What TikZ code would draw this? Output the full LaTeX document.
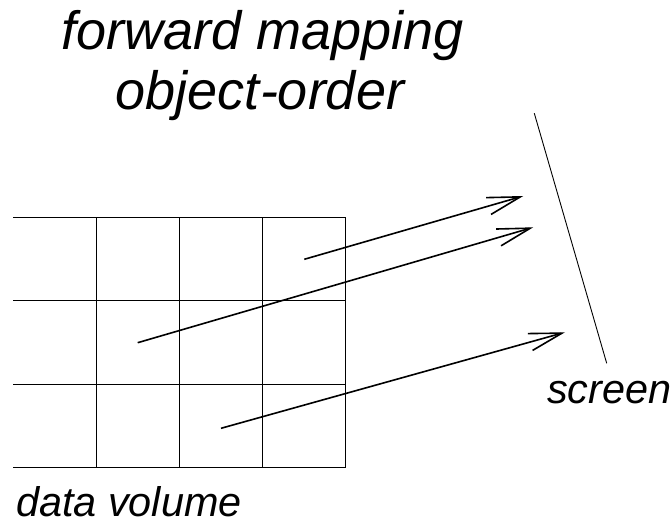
\documentclass[tikz,border=0pt]{standalone}
\usepackage{fontspec}
\setmainfont{Liberation Sans}
\usetikzlibrary{arrows.meta}
\begin{document}
\begin{tikzpicture}[x=1pt,y=-1pt,
  gridline/.style={line width=1pt},
  ray/.style={line width=1.6pt,-{Straight Barb[length=33pt,width=17.5pt,line width=1.6pt]}},
  screenline/.style={line width=0.9pt},
  title/.style={font=\fontsize{54}{64}\selectfont\itshape,anchor=base,inner sep=0pt},
  label/.style={font=\fontsize{41.4}{50}\selectfont\itshape,anchor=base west,inner sep=0pt}]
\useasboundingbox (0,0) rectangle (672,524);
% grid of the data volume (open on the left)
\foreach \y in {217.3,300.7,384,467.3}
  \draw[gridline] (13,\y) -- (345.7,\y);
\foreach \x in {96,179,262.3,345.7}
  \draw[gridline] (\x,217.3) -- (\x,467.3);
% screen
\coordinate (stop) at (534.3,113.3);
\coordinate (sbot) at (606.7,363.3);
\draw[screenline] (stop) -- (sbot);
% rays from voxels to the screen
\coordinate (a1) at (304.3,259.3);
\coordinate (b1) at (523.3,196);
\coordinate (a2) at (137.7,342.7);
\coordinate (b2) at (533.3,227.3);
\coordinate (a3) at (221,428.3);
\coordinate (b3) at (565,332.3);
\draw[ray] (a1) -- (b1);
\draw[ray] (a2) -- (b2);
\draw[ray] (a3) -- (b3);
% labels
\node[title] (t1) at (263,50) {forward mapping};
\node[title] (t2) at (260,110) {object-order};
\node[label] (scr) at (547,403) {screen};
\node[label] (dv) at (16,516.7) {data volume};
\end{tikzpicture}
\end{document}
